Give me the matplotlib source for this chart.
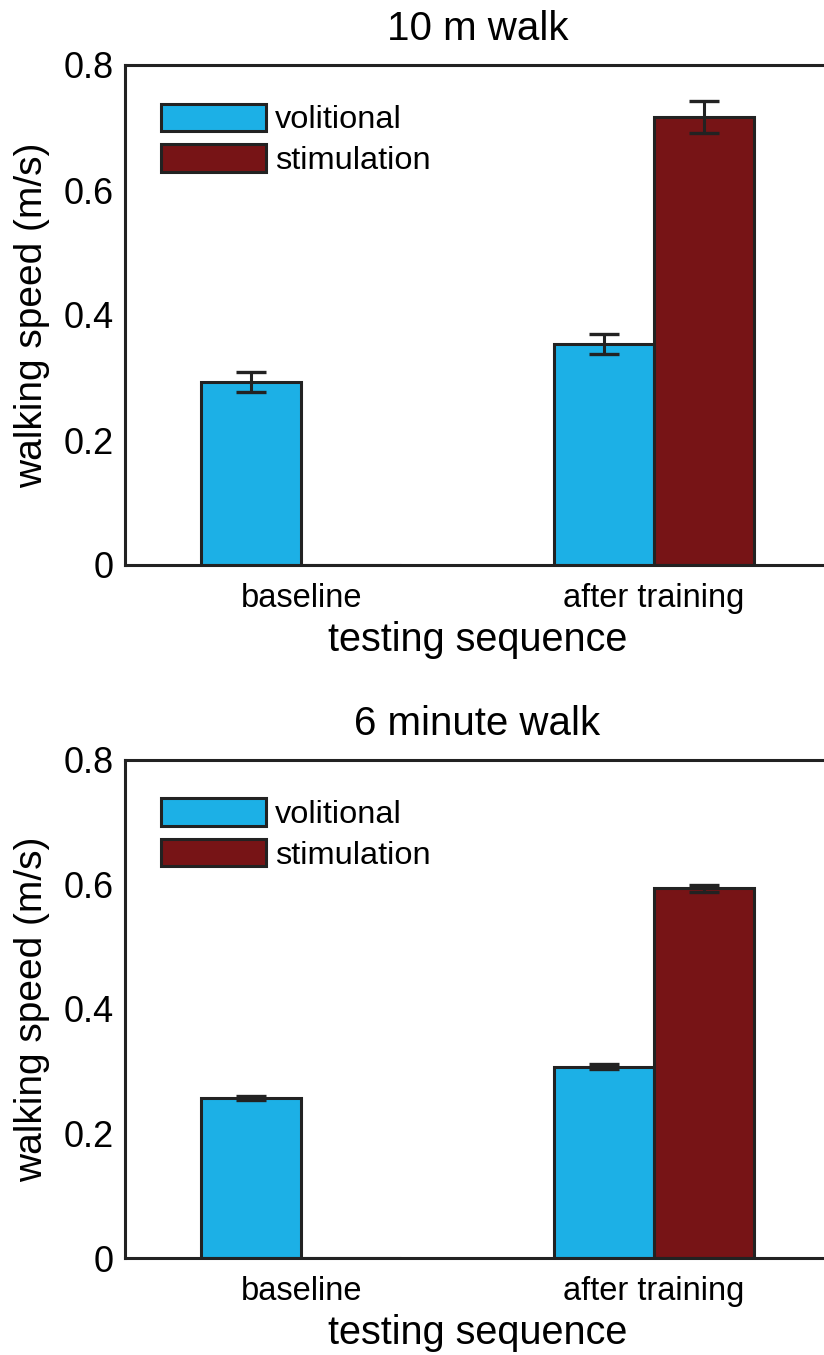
import numpy as np
import matplotlib
matplotlib.use("Agg")
import matplotlib.pyplot as plt

plt.rcParams['font.family'] = ['Liberation Sans', 'DejaVu Sans']

# data
groups = ["baseline", "after training"]
series = ["volitional", "stimulation"]
titles = ["10 m walk", "6 minute walk"]

walk10_vol = [0.293, 0.354]
walk10_vol_err = [0.016, 0.016]
walk10_stim = [0.0, 0.717]
walk10_stim_err = [0.0, 0.026]

walk6_vol = [0.257, 0.307]
walk6_vol_err = [0.003, 0.004]
walk6_stim = [0.0, 0.594]
walk6_stim_err = [0.0, 0.006]

yticks = [0, 0.2, 0.4, 0.6, 0.8]
ytick_labels = ["0", "0.2", "0.4", "0.6", "0.8"]

blue = "#1cb0e6"
red = "#771416"
edge = "#222222"

fig = plt.figure(figsize=(8.24, 13.55), dpi=100)
W, H = 824, 1355
# axes boxes in pixels: left, top, right, bottom
boxes = [(125, 65, 830, 565), (125, 760, 830, 1258)]

panels = [
    (walk10_vol, walk10_vol_err, walk10_stim, walk10_stim_err),
    (walk6_vol, walk6_vol_err, walk6_stim, walk6_stim_err),
]

x = np.arange(1, len(groups) + 1)
w = 0.284

for (l, t, r, b), title, (vol, vol_e, stim, stim_e) in zip(boxes, titles, panels):
    ax = fig.add_axes([l / W, 1 - b / H, (r - l) / W, (b - t) / H])
    ax.bar(x - w / 2, vol, w, color=blue, edgecolor=edge, linewidth=2.2,
           label=series[0], zorder=2)
    ax.bar(x + w / 2, stim, w, color=red, edgecolor=edge, linewidth=2.2,
           label=series[1], zorder=2)
    # error bars only where there is a bar
    ax.errorbar(x - w / 2, vol, yerr=vol_e, fmt="none", ecolor=edge,
                elinewidth=2.2, capsize=11, capthick=2.4, zorder=3)
    m = np.array(stim) > 0
    ax.errorbar((x + w / 2)[m], np.array(stim)[m], yerr=np.array(stim_e)[m],
                fmt="none", ecolor=edge, elinewidth=2.2, capsize=11,
                capthick=2.4, zorder=3)

    ax.set_xlim(0.5, 2.5)
    ax.set_ylim(0, 0.8)
    ax.set_xticks(x)
    ax.set_xticklabels(groups, fontsize=23.5)
    ax.set_yticks(yticks)
    ax.set_yticklabels(ytick_labels, fontsize=26)
    ax.tick_params(axis="x", length=0, pad=13)
    ax.tick_params(axis="y", length=0, pad=8)
    for s in ax.spines.values():
        s.set_linewidth(2.2)
        s.set_color(edge)
    ax.set_title(title, fontsize=29, pad=18)
    ax.set_xlabel("testing sequence", fontsize=28.5, labelpad=5)
    ax.set_ylabel("walking speed (m/s)", fontsize=28, labelpad=10)

    leg = ax.legend(loc="upper left", bbox_to_anchor=(0.032, 0.949),
                    frameon=False, fontsize=23.4, handlelength=3.23,
                    handleheight=0.92, handletextpad=0.3, labelspacing=0.27,
                    borderaxespad=0)

fig.savefig("out.png", dpi=100)
